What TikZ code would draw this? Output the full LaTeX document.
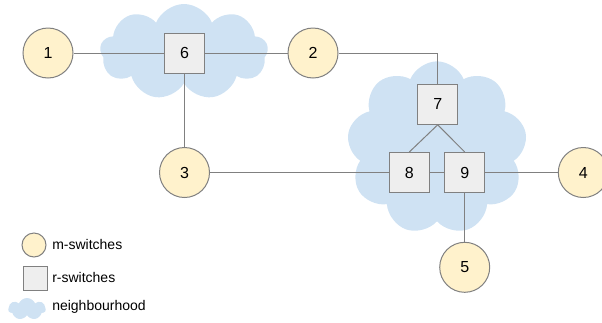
\documentclass[tikz,border=0pt]{standalone}
\usepackage{fontspec}
\setmainfont{Liberation Sans}
\usetikzlibrary{shapes.symbols}
\definecolor{linegray}{HTML}{808080}
\definecolor{mfill}{HTML}{FFF2CC}
\definecolor{rfill}{HTML}{EEEEEE}
\definecolor{hoodblue}{HTML}{CFE2F3}
\tikzset{
  mswitch/.style={circle, draw=linegray, fill=mfill, line width=0.75pt,
    minimum size=37.5pt, inner sep=0pt, font=\fontsize{12}{14}\selectfont},
  rswitch/.style={rectangle, draw=linegray, fill=rfill, line width=0.75pt,
    minimum size=30pt, inner sep=0pt, font=\fontsize{12}{14}\selectfont},
  hood/.style={cloud, cloud puffs=9, cloud puff arc=135, cloud ignores aspect,
    fill=hoodblue, draw=none, inner sep=0pt},
  link/.style={draw=linegray, line width=0.75pt},
  legendtext/.style={anchor=west, inner sep=0pt, font=\fontsize{10.5}{12}\selectfont}
}
\begin{document}
\begin{tikzpicture}[x=0.75pt, y=-0.75pt]
  \useasboundingbox (0,0) rectangle (602,322);
  \clip (0,0) rectangle (602,322);

  % neighbourhoods
  \node[hood, minimum width=126pt, minimum height=72pt] (c1) at (184,52) {};
  \node[hood, minimum width=135pt, minimum height=130pt] (c2) at (437,148) {};

  % switches
  \node[mswitch] (n1) at (48,53) {1};
  \node[rswitch] (n6) at (184.5,53) {6};
  \node[mswitch] (n2) at (313,53) {2};
  \node[mswitch] (n3) at (184.5,172.5) {3};
  \node[rswitch] (n7) at (437.7,104.3) {7};
  \node[rswitch] (n8) at (409.3,172.5) {8};
  \node[rswitch] (n9) at (464.7,172.5) {9};
  \node[mswitch] (n4) at (583.3,172.5) {4};
  \node[mswitch] (n5) at (464.7,267.3) {5};

  % links
  \draw[link] (n1.east) -- (n6.west);
  \draw[link] (n6.east) -- (n2.west);
  \draw[link] (n6.south) -- (n3.north);
  \draw[link] (n2.east) -| (n7.north);
  \draw[link] (n3.east) -- (n8.west);
  \draw[link] (n8.east) -- (n9.west);
  \draw[link] (n7.south) -- (n8.north);
  \draw[link] (n7.south) -- (n9.north);
  \draw[link] (n9.east) -- (n4.west);
  \draw[link] (n9.south) -- (n5.north);

  % legend
  \node[mswitch, minimum size=18pt] (lm) at (34,245) {};
  \node[rswitch, minimum size=18pt] (lr) at (35,278.5) {};
  \node[hood, cloud puffs=7, minimum width=28pt, minimum height=16.5pt] (lh) at (27,309) {};
  \node[legendtext] (tm) at (52,244) {m-switches};
  \node[legendtext] (tr) at (52,277) {r-switches};
  \node[legendtext] (th) at (52,307) {neighbourhood};
\end{tikzpicture}
\end{document}
